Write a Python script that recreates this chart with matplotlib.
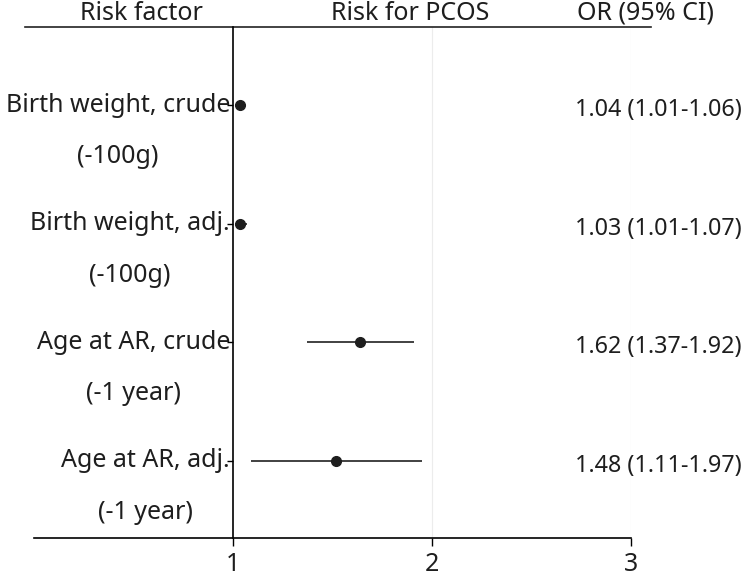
import numpy as np
import matplotlib.pyplot as plt

plt.rcParams['font.family'] = ['Noto Sans', 'DejaVu Sans']

# データ
factors = ["Birth weight, crude", "Birth weight, adj.",
           "Age at AR, crude", "Age at AR, adj."]
units = ["(-100g)", "(-100g)", "(-1 year)", "(-1 year)"]
or_est = [1.035, 1.035, 1.64, 1.52]
ci_low = [1.01, 1.01, 1.37, 1.09]
ci_high = [1.06, 1.07, 1.91, 1.95]
or_text = ["1.04 (1.01-1.06)", "1.03 (1.01-1.07)",
           "1.62 (1.37-1.92)", "1.48 (1.11-1.97)"]
headers = ["Risk factor", "Risk for PCOS", "OR (95% CI)"]
xticks = [1, 2, 3]

FS = 18
TXT = '#1e1e1e'


def main():
    fig = plt.figure(figsize=(7.5, 5.8), dpi=100)
    ax = fig.add_axes([0.0453, 0.0724, 0.796, 0.881])

    rows = np.arange(len(factors), 0, -1)
    ax.set_xlim(0, 3)
    ax.set_ylim(0.35, 4.66)

    # うすいグリッド
    for g in [2, 3]:
        ax.axvline(g, color='#ececec', lw=0.8, zorder=0)

    # CI と点
    ax.hlines(rows, ci_low, ci_high, color='#333333', lw=1.3, zorder=2)
    ax.plot(or_est, rows, 'o', color='#1e1e1e', ms=7, zorder=3)

    # 軸
    for s in ['top', 'right']:
        ax.spines[s].set_visible(False)
    ax.spines['left'].set_position(('data', 1))
    ax.spines['left'].set_linewidth(1.2)
    ax.spines['bottom'].set_linewidth(1.2)
    ax.set_xticks(xticks)
    ax.set_xticklabels([str(t) for t in xticks], fontsize=FS, color=TXT)
    ax.tick_params(axis='x', length=6, width=1.0, pad=4)
    ax.set_yticks(rows)
    ax.set_yticklabels([])
    ax.tick_params(axis='y', length=4, width=1.0)

    # 上の線
    ax.axhline(4.66, xmin=-0.015, xmax=1.033, color='#222222', lw=1.2, clip_on=False)

    # ラベル
    for r, f, u, t in zip(rows, factors, units, or_text):
        lab = ax.text(0.985, r, f, ha='right', va='center', fontsize=FS, color=TXT)
        ax.annotate(u, xy=(0.5, 0), xycoords=lab, xytext=(0, -19),
                    textcoords='offset points', ha='center', va='top',
                    fontsize=FS, color=TXT)
        ax.text(2.72, r - 0.04, t, ha='left', va='center', fontsize=16.8, color=TXT)

    # ヘッダ
    hy = 4.66 + 0.115
    ax.text(0.54, hy, headers[0], ha='center', va='center', fontsize=FS, color=TXT)
    ax.text(1.89, hy, headers[1], ha='center', va='center', fontsize=FS, color=TXT)
    ax.text(3.075, hy, headers[2], ha='center', va='center', fontsize=FS, color=TXT)

    fig.savefig("out.png", dpi=100)


if __name__ == "__main__":
    main()
